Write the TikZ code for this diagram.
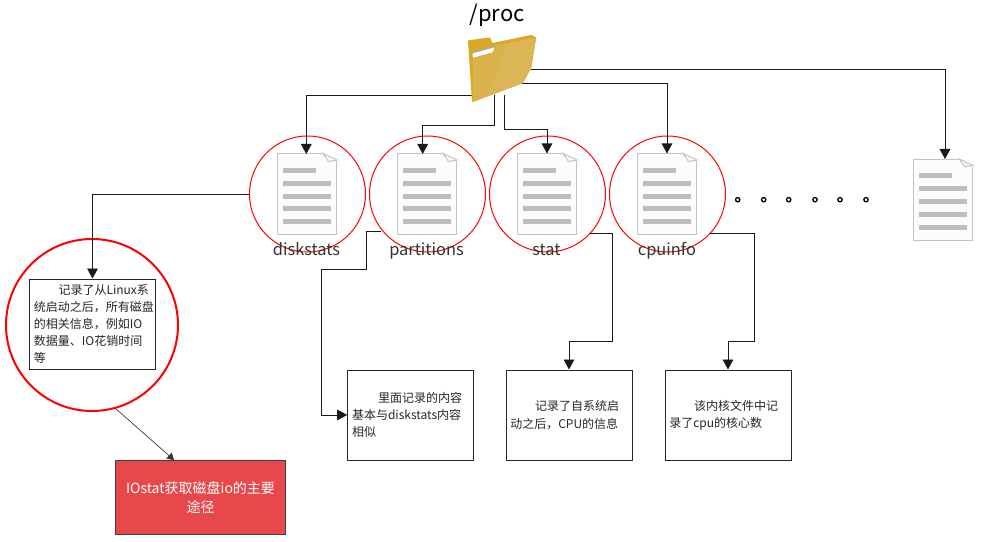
\documentclass[tikz,border=0pt]{standalone}
\usepackage{fontspec}
\setmainfont{Noto Sans CJK SC}
\usetikzlibrary{arrows.meta,calc}
\definecolor{docbar}{HTML}{BEBEBE}
\definecolor{docedge}{HTML}{C4C4C4}
\definecolor{docfill}{HTML}{FCFCFC}
\definecolor{boxred}{HTML}{E8484B}
\definecolor{linek}{HTML}{1A1A1A}
\definecolor{folderback}{HTML}{D9A824}
\definecolor{folderfront}{HTML}{DAB24C}
\definecolor{folderlight}{HTML}{DCB656}
\tikzset{
  conn/.style={draw=linek,line width=0.65pt,-{Triangle[length=7.5pt,width=8pt]}},
  ring/.style={circle,draw=red,line width=0.75pt,minimum size=87pt,inner sep=0pt},
  bigring/.style={circle,draw=red,line width=1.5pt,minimum size=129pt,inner sep=0pt},
  docbox/.style={rectangle,draw=docedge,fill=docfill,line width=0.75pt,minimum width=44.5pt,minimum height=60pt,inner sep=0pt},
  notebox/.style={rectangle,draw=black!85,fill=white,line width=0.75pt,minimum width=94.5pt,minimum height=67.5pt,inner sep=3pt,text width=88pt,align=left,font=\fontsize{9}{12.9}\selectfont,text=black!85},
  redbox/.style={rectangle,draw=black!75,fill=boxred,line width=0.75pt,minimum width=127.5pt,minimum height=56pt,inner sep=4pt,text width=118pt,align=center,text=white,font=\fontsize{10.5}{14.8}\selectfont},
  namelabel/.style={font=\fontsize{12.3}{14}\selectfont,text=black!80,inner sep=0pt,anchor=base},
  ringdot/.style={circle,draw=black,fill=white,line width=1pt,minimum size=3.2pt,inner sep=0pt},
}
\newcommand{\docdetails}[1]{%
  \fill[white] ($(#1.north east)+(-11pt,0.6pt)$) -- ($(#1.north east)+(0.6pt,0.6pt)$) -- ($(#1.north east)+(0.6pt,-6.5pt)$) -- cycle;
  \draw[docedge,line width=0.75pt,fill=docfill] ($(#1.north east)+(-10.5pt,0)$) -- ($(#1.north east)+(0,-5pt)$) -- ($(#1.north east)+(-6.5pt,-6pt)$) -- cycle;
  \fill[docbar] ($(#1.north west)+(4.5pt,-10.8pt)$) rectangle ++(24.8pt,-3.8pt);
  \foreach \yy in {20.6,30.3,39.6,49.3}
    \fill[docbar] ($(#1.north west)+(4.5pt,-\yy pt)$) rectangle ++(36pt,-3.8pt);
}
\begin{document}
\begin{tikzpicture}[x=0.75pt,y=-0.75pt]
\useasboundingbox (0,0) rectangle (983,542);

% nodes
\node[docbox] (d1) at (307,194) {};
\node[docbox] (d2) at (427,194) {};
\node[docbox] (d3) at (547,194) {};
\node[docbox] (d4) at (667,194) {};
\node[docbox,minimum height=60.5pt] (d5) at (943,199.7) {};
\docdetails{d1}\docdetails{d2}\docdetails{d3}\docdetails{d4}\docdetails{d5}

\node[ring] (c1) at (307.5,194) {};
\node[ring] (c2) at (427.5,194) {};
\node[ring] (c3) at (547.5,194) {};
\node[ring] (c4) at (667.5,194) {};
\node[bigring] (big) at (92,325) {};

\node[namelabel] (l1) at (306.5,255.3) {diskstats};
\node[namelabel] (l2) at (426.5,255.3) {partitions};
\node[namelabel] (l3) at (546.5,255.3) {stat};
\node[namelabel] (l4) at (667,255.3) {cpuinfo};

\node[notebox,minimum height=67.5pt] (b1) at (92.5,324) {\hspace*{18.5pt}记录了从Linux系\\统启动之后，所有磁盘\\的相关信息，例如IO\\数据量、IO花销时间\\等};
\node[notebox] (b2) at (410.7,415) {\hspace*{19.5pt}里面记录的内容\\基本与diskstats内容\\相似};
\node[notebox] (b3) at (569,415) {\hspace*{18.5pt}记录了自系统启\\动之后，CPU的信息};
\node[notebox] (b4) at (728,415) {\hspace*{18.5pt}该内核文件中记\\录了cpu的核心数};
\node[redbox] (r) at (200.5,497.5) {IOstat获取磁盘io的主要\\途径};

\node[font=\fontsize{16.5}{18}\selectfont,text=black,inner sep=0pt,anchor=base] (proc) at (497,21.5) {/proc};

\foreach \n/\xx in {1/737.7,2/763.7,3/788.7,4/815,5/840,6/866}
  \node[ringdot] (dot\n) at (\xx,199.7) {};

% connector anchors on the folder and on nodes
\coordinate (f1) at (474,95);
\coordinate (f2) at (494.5,95);
\coordinate (f3) at (504.5,95);
\coordinate (f4) at (520,83);
\coordinate (f5) at (528,69);
\coordinate (t1) at (306.3,154);
\coordinate (t2) at (422.7,154);
\coordinate (t5) at (945,159);
\coordinate (s2) at (381,231);
\coordinate (s3) at (590,233);
\coordinate (s4) at (710,233);
\coordinate (s5) at (115,408);
\coordinate (t6) at (174,460);
\coordinate (k2a) at (366.5,231);
\coordinate (k2c) at (366.5,269);
\coordinate (k2b) at (321,269);
\coordinate (k3) at (612,341);
\coordinate (k4) at (754,341);

% connectors
\draw[conn] (f1) -| (t1);
\draw[conn] (f2) -- (f2 |- 0,125) -| (t2);
\draw[conn] (f3) -- (f3 |- 0,129) -| (d3.north);
\draw[conn] (f4) -| (d4.north);
\draw[conn] (f5) -| (t5);
\draw[conn] (c1.west) -| (b1.north);
\draw[conn] (s2) -- (k2a) -- (k2c) -- (k2b) |- (b2.west);
\draw[conn] (s3) -| (k3) -| (b3.north);
\draw[conn] (s4) -| (k4) -| (b4.north);
\draw[draw=black!80,line width=0.5pt,-{Triangle[length=5pt,width=6pt]}] (s5) -- (t6);

% folder
\fill[folderback] (468,40.5) -- (489,37.5) .. controls (491,37.5) and (491,41) .. (492.5,43) -- (531,35) -- (536,37.5) -- (531,70) -- (472,102) -- cycle;
\fill[black!35] (472,52) -- (494,46) -- (495,50) -- (473,56) -- cycle;
\fill[white] (472.5,53.5) -- (494,47.5) -- (494,52) -- (473,58) -- cycle;
\fill[folderfront] (473,58) -- (493,52.5) -- (495,45) -- (536,38) -- (530.5,69) -- (523,83) -- (473,102) -- cycle;
\fill[folderlight] (486,97) -- (509,43) -- (536,38) -- (530.5,69) -- (523,83) -- cycle;
\end{tikzpicture}
\end{document}
